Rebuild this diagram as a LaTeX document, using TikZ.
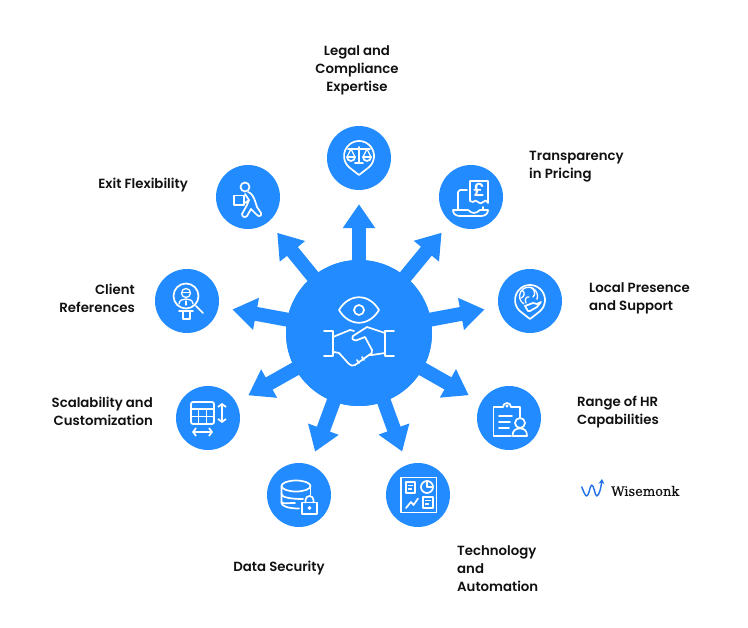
\documentclass[tikz,border=0pt]{standalone}
\usepackage{fontspec}
\setmainfont{Poppins}[UprightFont=* SemiBold]
\newfontfamily\logofont{DejaVu Serif}[FakeBold=0.5]
\usepackage{xcolor}
\usetikzlibrary{arrows.meta,positioning,calc}
\definecolor{hubblue}{HTML}{228BFF}
\definecolor{logoblue}{HTML}{1F6FE8}
\definecolor{labeltext}{HTML}{111111}
\tikzset{
  hubdisc/.style={circle, fill=hubblue, minimum size=146pt, inner sep=0pt},
  icondisc/.style={circle, fill=hubblue, minimum size=64pt, inner sep=0pt},
  spoke/.style={draw=hubblue, line width=14pt, shorten <=-3pt, shorten >=14pt,
                -{Triangle[length=24pt,width=31pt]}},
  label/.style={font=\fontsize{13.3}{18}\selectfont, text=labeltext, inner sep=0pt},
  glyph/.style={draw=white, line width=1.7pt, line join=round, line cap=round},
  thin glyph/.style={glyph, line width=1.3pt}
}
\begin{document}
\begin{tikzpicture}[x=1pt,y=-1pt]
    \useasboundingbox (0,0) rectangle (748,628);

    % Ring of icon discs
    \node[icondisc] (legal) at (359,158) {};
    \node[icondisc] (pricing) at (471,197) {};
    \node[icondisc] (local) at (530,301) {};
    \node[icondisc] (range) at (509,418) {};
    \node[icondisc] (tech) at (418,495) {};
    \node[icondisc] (security) at (299,495) {};
    \node[icondisc] (scale) at (208,418) {};
    \node[icondisc] (client) at (187,301) {};
    \node[icondisc] (exit) at (248,197) {};
    \node[hubdisc] (hub) at (359,333) {};

    % Spokes
    \foreach \target in {legal,pricing,local,range,tech,security,scale,client,exit}
      \draw[spoke] (hub) -- (\target);
    \node[hubdisc] (hubtop) at (hub) {};

    % Labels
    \node[label,align=center] (legaltext) at (357,70.5) {Legal and\\Compliance\\Expertise};
    \node[label,align=left,anchor=west] (pricingtext) at (529,166.5) {Transparency\\in Pricing};
    \node[label,align=left,anchor=west] (localtext) at (589,298.5) {Local Presence\\and Support};
    \node[label,align=left,anchor=west] (rangetext) at (577,412.5) {Range of HR\\Capabilities};
    \node[label,align=left,anchor=west] (techtext) at (457,568.5) {Technology\\and\\Automation};
    \node[label,anchor=center] (securitytext) at (279,568.5) {Data Security};
    \node[label,align=right,anchor=east] (scaletext) at (153,411) {Scalability and\\Customization};
    \node[label,align=right,anchor=east] (clienttext) at (135,298.5) {Client\\References};
    \node[label,anchor=east] (exittext) at (188,185.5) {Exit Flexibility};

    % Hub: eye and handshake
    \begin{scope}[shift={(hub.center)}]
      \draw[glyph] (-20,-23) .. controls (-10,-40) and (10,-40) .. (20,-23)
        .. controls (10,-6) and (-10,-6) .. cycle;
      \draw[glyph] (0,-23) circle (5);
      \draw[glyph] (-35,-2) -- (-26,-2) -- (-26,23) -- (-35,23);
      \draw[glyph] (35,-2) -- (26,-2) -- (26,23) -- (35,23);
      \draw[glyph] (-26,4) -- (-9,-3) -- (-5,-2);
      \draw[glyph] (26,0) -- (8,-6) -- (-6,3) .. controls (-8,6) and (-5,8) .. (-3,7.5)
        -- (6,4) -- (13,17) .. controls (14,20) and (12,21) .. (10,22) -- (13,22) -- (26,20);
      \draw[glyph] (-25,19) -- (-20,20) -- (-10,31) .. controls (-8,33) and (-6,33) .. (-4,32)
        -- (10,22);
      \draw[glyph] (-2,27) -- (0,30) (3,24) -- (5,27);
    \end{scope}

    % Legal: scales in a pin
    \begin{scope}[shift={(legal.center)}]
      \draw[glyph] (0,17) -- (9.2,9.85) arc[start angle=52.2,end angle=-232.2,radius=15] -- cycle;
      \draw[glyph] (-11,-9) -- (11,-9) (0,-11) -- (0,5) (-4,5) -- (4,5);
      \draw[thin glyph] (-12,-1) -- (-8,-9) -- (-4,-1) (12,-1) -- (8,-9) -- (4,-1);
      \draw[glyph] (-12,-1) -- (-4,-1) arc[start angle=0,end angle=180,radius=4];
      \draw[glyph] (4,-1) -- (12,-1) arc[start angle=0,end angle=180,radius=4];
    \end{scope}

    % Pricing: receipt and laptop
    \begin{scope}[shift={(pricing.center)}]
      \draw[glyph] (-1,4) -- (-1,-16) -- (17,-16) -- (17,6)
        .. controls (15,3) and (14,3) .. (12,5) .. controls (10,7) and (9,7) .. (7,5)
        .. controls (5,3) and (4,3) .. (2,5) -- (-1,4);
      \node[font=\fontsize{18}{18}\selectfont,text=white,inner sep=0pt] (pound) at (8,-7) {£};
      \draw[glyph] (-13,13) -- (-13,-5) -- (-11,-7) -- (-4,-7);
      \draw[glyph] (-18,13) -- (-3,13) .. controls (1,17) and (5,17) .. (9,13) -- (17,13)
        .. controls (17,17) and (14,19) .. (10,19) -- (-11,19) .. controls (-15,19) and (-18,17) .. cycle;
      \draw[glyph] (12,10) -- (12,13);
    \end{scope}

    % Local presence: globe and hand in a pin
    \begin{scope}[shift={(local.center)}]
      \draw[glyph] (0,18) -- (9.2,10.85) arc[start angle=52.2,end angle=-232.2,radius=15] -- cycle;
      \draw[thin glyph] (-6,3) arc[start angle=120,end angle=380,radius=9];
      \draw[thin glyph] (-8,-11) .. controls (-4,-8) and (-6,-4) .. (-9,-3);
      \draw[thin glyph] (-4,2) .. controls (-6,-2) and (-3,-5) .. (-1,-4);
      \draw[thin glyph] (1,-14) .. controls (5,-10) and (6,-7) .. (3,-4);
      \draw[glyph] (-5,5) -- (3,2) -- (7,3) -- (11,1) -- (7,6) -- (0,10) -- (-2,10) -- cycle;
    \end{scope}

    % Range of HR: clipboard and person
    \begin{scope}[shift={(range.center)}]
      \draw[glyph] (-6,-11) -- (-15.5,-11) -- (-15.5,18) -- (2,18);
      \draw[glyph] (2,-11) -- (11,-11) -- (11,-1);
      \draw[glyph] (-6,-11) arc[start angle=180,end angle=360,radius=4];
      \draw[thin glyph] (-2,-12) circle (1);
      \draw[glyph] (-10,-2) -- (3,-2) (-10,4) -- (1,4) (-10,10) -- (0,10);
      \draw[glyph] (11,5) circle (5);
      \draw[glyph] (3.5,18) .. controls (3.5,12) and (7,10.5) .. (11,10.5)
        .. controls (15,10.5) and (18,12) .. (18,18) -- cycle;
    \end{scope}

    % Technology: dashboard
    \begin{scope}[shift={(tech.center)}]
      \draw[glyph] (-17,-17.5) rectangle (18.5,17.5);
      \draw[thin glyph] (-12,-13) rectangle (-3,-2);
      \draw[thin glyph] (-9.5,-9.5) -- (-5.5,-9.5) (-9.5,-6) -- (-6.5,-6);
      \draw[glyph] (9,-8) circle (6);
      \draw[thin glyph] (9,-14) -- (9,-8) -- (15,-8);
      \draw[glyph] (-12,13) -- (-7,7) -- (-4.5,10) -- (0,3.5);
      \draw[thin glyph] (5,2) rectangle (15,13);
      \draw[thin glyph] (7.5,5.5) -- (12.5,5.5) (7.5,9) -- (10.5,9);
    \end{scope}

    % Data security: database and lock
    \begin{scope}[shift={(security.center)}]
      \draw[glyph] (-3,-9) ellipse (14.5 and 5.5);
      \draw[glyph] (-17.5,-9) -- (-17.5,8) .. controls (-17.5,11) and (-11,13.5) .. (0,13.5);
      \draw[glyph] (11.5,-9) -- (11.5,0);
      \draw[glyph] (-17.5,-1) .. controls (-17.5,2) and (-10,4) .. (4,4);
      \draw[glyph] (-17.5,7) .. controls (-17.5,9) and (-12,8) .. (-4,8);
      \draw[glyph] (3.3,7.5) rectangle (17.7,19);
      \draw[glyph] (6.5,7.5) -- (6.5,5) arc[start angle=180,end angle=360,radius=4] -- (14.5,7.5);
      \draw[thin glyph] (10.5,13) circle (1.3);
    \end{scope}

    % Scalability: table and arrows
    \begin{scope}[shift={(scale.center)}]
      \draw[glyph,rounded corners=2pt] (-17,-16) rectangle (6,6);
      \draw[thin glyph] (-17,-9) -- (6,-9) (-17,-1.5) -- (6,-1.5)
        (-9.5,-9) -- (-9.5,6) (-1.5,-9) -- (-1.5,6);
      \draw[glyph,{Straight Barb[length=3pt,width=8pt]}-{Straight Barb[length=3pt,width=8pt]}] (14,-15) -- (14,5);
      \draw[glyph,{Straight Barb[length=3pt,width=8pt]}-{Straight Barb[length=3pt,width=8pt]}] (-16,14) -- (5,14);
    \end{scope}

    % Client references: person under a magnifier
    \begin{scope}[shift={(client.center)}]
      \draw[glyph] (-1,-5) circle (12.5);
      \draw[glyph] (9,5) -- (16,12);
      \draw[thin glyph] (-1,-8) circle (4.5);
      \draw[thin glyph] (-5,-8.5) -- (3,-8.5);
      \draw[thin glyph] (-8,3) .. controls (-8,-1) and (-4,-2) .. (-1,-2)
        .. controls (2,-2) and (6,-1) .. (6,3);
      \draw[thin glyph] (-1,0) -- (-1,4);
      \draw[glyph] (-8,10) -- (6,10) -- (3,10) -- (3,18) -- (-4,18) -- (-4,10);
    \end{scope}

    % Exit flexibility: figure carrying a box
    \begin{scope}[shift={(exit.center)}]
      \draw[glyph] (-3,-10) circle (4.5);
      \draw[glyph] (-14,-1.5) rectangle (-4,8);
      \draw[glyph] (0,-5) .. controls (4,-4) and (6,0) .. (9,10) -- (13,16)
        .. controls (14,19) and (11,20) .. (9,18) -- (3,12) -- (-1,19)
        .. controls (-3,21) and (-6,20) .. (-6,17) -- (-1,8) -- (1,3) -- (-3,6);
      \draw[glyph] (-3,-3) -- (1,3);
    \end{scope}

    % Logo
    \coordinate (logotip) at (602,479);
    \draw[draw=logoblue,line width=1.4pt,line join=round,-{Stealth[length=5pt,width=6pt]}]
      (581.5,486.5) .. controls (584,492) and (585,496) .. (586.7,496)
      .. controls (589,496) and (590,485) .. (591.7,485)
      .. controls (594,485) and (595,496) .. (596.7,496)
      .. controls (599,496) and (601,488) .. (logotip);
    \node[font=\logofont\fontsize{13}{14}\selectfont,text=labeltext,inner sep=0pt,anchor=west]
      (logotext) at (611,491) {Wisemonk};
\end{tikzpicture}
\end{document}
